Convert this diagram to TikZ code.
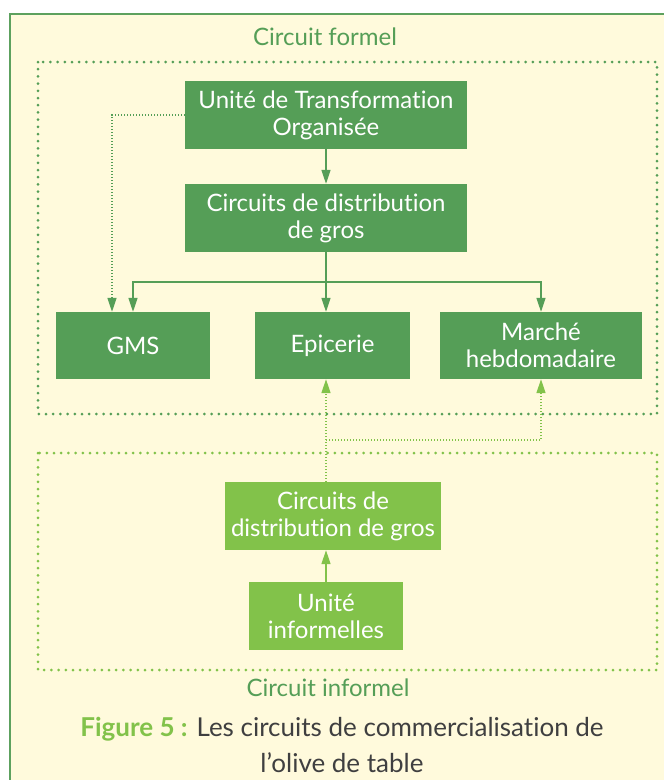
\documentclass[tikz,border=0pt]{standalone}
\usepackage{fontspec}
\setmainfont{Lato}[Ligatures=NoCommon]
\usetikzlibrary{arrows.meta}
\definecolor{cream}{HTML}{FFFADC}
\definecolor{frame}{HTML}{5DA15E}
\definecolor{darkgr}{HTML}{559E57}
\definecolor{lightgr}{HTML}{82C24A}
\definecolor{capgray}{HTML}{3F3F40}

\begin{document}
\begin{tikzpicture}[x=1pt, y=-1pt,
  every node/.style={font=\fontsize{24}{27}\selectfont, align=center},
  darkbox/.style={fill=darkgr, text=white, inner sep=0pt},
  lightbox/.style={fill=lightgr, text=white, inner sep=0pt},
  arr/.style={darkgr, line width=1.2pt, -{Triangle[length=14pt,width=9pt]}},
  larr/.style={lightgr, line width=1.2pt, -{Triangle[length=14pt,width=9pt]}},
  dotarr/.style={darkgr, line width=1.2pt, dash pattern=on 1.2pt off 1.8pt, -{Triangle[length=14pt,width=9pt]}},
  ldotarr/.style={lightgr, line width=1.2pt, dash pattern=on 1.2pt off 1.8pt, -{Triangle[length=14pt,width=9pt]}},
  zone/.style={line width=3pt, line cap=round, dash pattern=on 0pt off 7.2pt}]
  \useasboundingbox (0,0) rectangle (664,780);
  \fill[white] (0,0) rectangle (664,780);
  \draw[frame, line width=2.5pt, fill=cream] (10,14) rectangle (700,820);
  % zones
  \draw[zone, darkgr] (38,62) rectangle (657,414);
  \draw[zone, lightgr] (38,453) rectangle (657,670);
  \node[text=darkgr, font=\fontsize{24}{27}\selectfont] (formel) at (325,37) {Circuit formel};
  \node[text=darkgr, font=\fontsize{24}{27}\selectfont] (informel) at (328,688) {Circuit informel};
  % formal circuit
  \node[darkbox, minimum width=282, minimum height=68] (uto) at (326,115) {Unité de Transformation\\Organisée};
  \node[darkbox, minimum width=282, minimum height=68] (cdg) at (326,218) {Circuits de distribution\\de gros};
  \node[darkbox, minimum width=154, minimum height=67] (gms) at (133,345.5) {GMS};
  \node[darkbox, minimum width=155, minimum height=67] (epi) at (332.5,345.5) {Epicerie};
  \node[darkbox, minimum width=202, minimum height=67] (mar) at (541,345.5) {Marché\\hebdomadaire};
  \coordinate (split) at (326,282);
  \draw[arr] (uto.south) -- (cdg.north);
  \draw[arr] (cdg.south) -- (cdg.south |- epi.north);
  \draw[arr] (split) -| (gms.north);
  \draw[arr] (split) -| (mar.north);
  \draw[dotarr] (uto.west) -| ([xshift=-21pt]gms.north);
  % informal circuit
  \node[lightbox, minimum width=216, minimum height=68] (cdg2) at (333,516) {Circuits de\\distribution de gros};
  \node[lightbox, minimum width=154, minimum height=68] (ui) at (326,616) {Unité\\informelles};
  \coordinate (join) at (326,440);
  \draw[larr] (ui.north) -- (ui.north |- cdg2.south);
  \draw[ldotarr] (ui.north |- cdg2.north) -- (ui.north |- epi.south);
  \draw[ldotarr] (join) -| (mar.south);
  % caption
  \node[text=capgray, font=\fontsize{26}{36}\selectfont] (caption) at (342,745)
    {\textcolor{lightgr}{\textbf{Figure 5 :}} Les circuits de commercialisation de\\l’olive de table};
\end{tikzpicture}
\end{document}
